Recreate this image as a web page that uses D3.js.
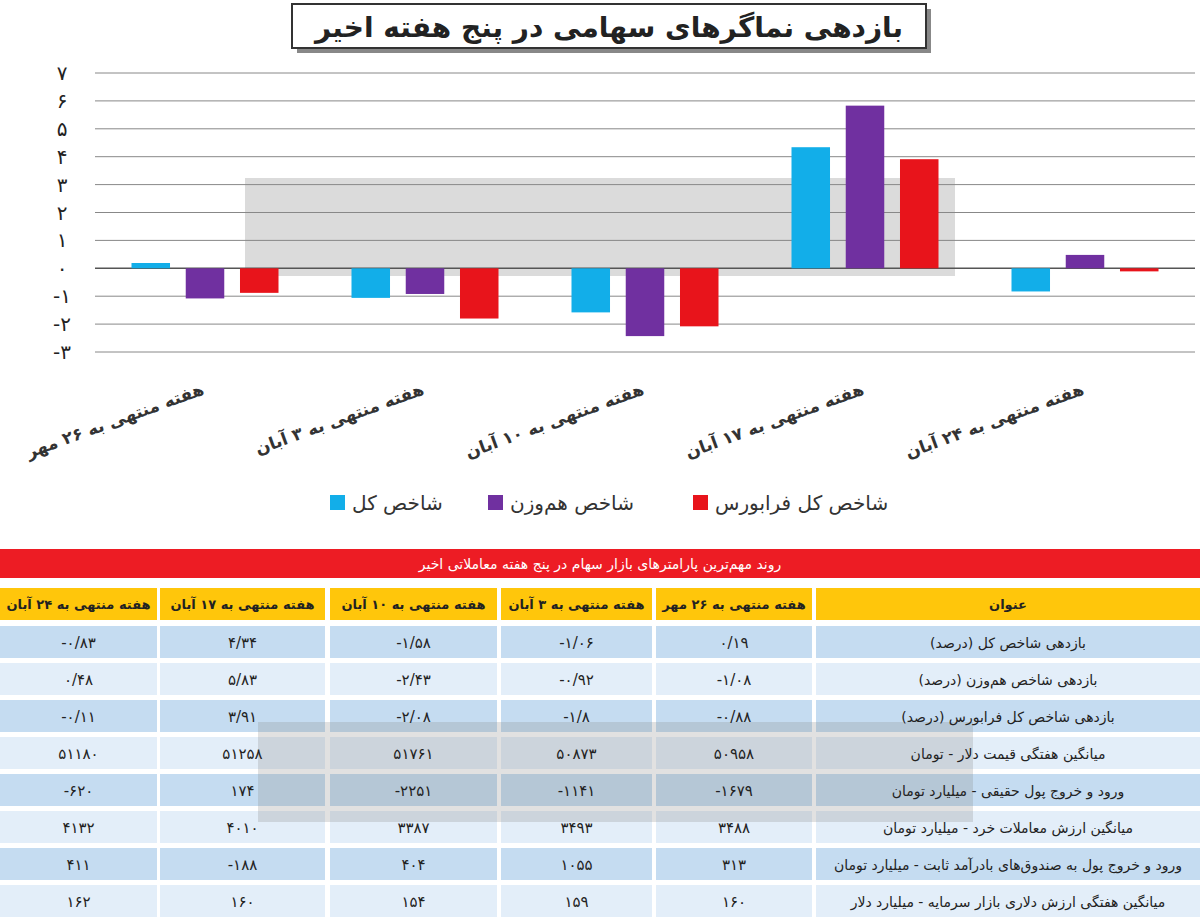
<!DOCTYPE html>
<html><head><meta charset="utf-8">
<script src="https://cdn.jsdelivr.net/npm/d3@7/dist/d3.min.js"></script>
<style>body{margin:0;background:#fff}svg{display:block;font-family:"DejaVu Sans",sans-serif}</style>
</head><body><svg id="c" width="1200" height="921"></svg>
<script>
const categories=["هفته منتهی به ۲۶ مهر","هفته منتهی به ۳ آبان","هفته منتهی به ۱۰ آبان","هفته منتهی به ۱۷ آبان","هفته منتهی به ۲۴ آبان"];
const seriesNames=["شاخص کل","شاخص هم‌وزن","شاخص کل فرابورس"];
const kol=[0.19,-1.06,-1.58,4.34,-0.83];
const hamvazn=[-1.08,-0.92,-2.43,5.83,0.48];
const farabourse=[-0.88,-1.8,-2.08,3.91,-0.11];
const yTicks=[-3,-2,-1,0,1,2,3,4,5,6,7];
const tableTitle="روند مهم‌ترین پارامترهای بازار سهام در پنج هفته معاملاتی اخیر";
const rowLabels=["بازدهی شاخص کل (درصد)","بازدهی شاخص هم‌وزن (درصد)","بازدهی شاخص کل فرابورس (درصد)","میانگین هفتگی قیمت دلار - تومان","ورود و خروج پول حقیقی - میلیارد تومان","میانگین ارزش معاملات خرد - میلیارد تومان","ورود و خروج پول به صندوق‌های بادرآمد ثابت - میلیارد تومان","میانگین هفتگی ارزش دلاری بازار سرمایه - میلیارد دلار"];
const dollar=[50958,50873,51761,51258,51180];
const haghighi=[-1679,-1141,-2251,174,-620];
const khord=[3488,3493,3387,4010,4132];
const sandogh=[313,1055,404,-188,411];
const dollarValue=[160,159,154,160,162];

const fa=s=>String(s).replace(/\d/g,d=>"۰۱۲۳۴۵۶۷۸۹"[d]);
const fmtDec=v=>(v<0?"-":"")+fa(Math.abs(v).toFixed(2).replace(/0$/,"").replace(/\.0$/,"")).replace(".","/");
const fmtInt=v=>(v<0?"-":"")+fa(Math.abs(v));

const svg=d3.select("#c");
const colors=["#12aee9","#7030a0","#e8141b"];
svg.append("rect").attr("x",297).attr("y",9).attr("width",634).attr("height",44).attr("fill","#888");
svg.append("rect").attr("x",292).attr("y",4).attr("width",634).attr("height",44).attr("fill","#fff").attr("stroke","#333").attr("stroke-width",2);
svg.append("text").attr("x",609).attr("y",37).attr("text-anchor","middle").attr("font-size",28).attr("font-weight","bold").attr("fill","#222").text("بازدهی نماگرهای سهامی در پنج هفته اخیر");

const x=d3.scaleBand().domain(categories).range([95,1195]);
const y=d3.scaleLinear().domain([-3,7]).range([352,73]);
const xs=d3.scaleBand().domain([0,1,2]).range([-73.5,73.5]).paddingInner(0.29);
svg.append("rect").attr("x",245).attr("y",178).attr("width",710).attr("height",98).attr("fill","#999").attr("opacity",0.35);
svg.append("g").selectAll("line").data(yTicks).join("line").attr("x1",95).attr("x2",1195)
 .attr("y1",d=>y(d)).attr("y2",d=>y(d)).attr("stroke",d=>d===0?"#555":"#888").attr("stroke-width",d=>d===0?1.5:1);
svg.append("g").selectAll("text").data(yTicks).join("text").attr("x",62).attr("y",d=>y(d)+7)
 .attr("text-anchor","middle").attr("font-size",20).attr("fill","#222").text(d=>(d<0?"-":"")+fa(Math.abs(d)));
const series=[kol,hamvazn,farabourse];
series.forEach((s,i)=>{
 svg.append("g").selectAll("rect").data(s).join("rect")
  .attr("x",(d,j)=>x(categories[j])+x.bandwidth()/2+xs(i)).attr("width",xs.bandwidth())
  .attr("y",d=>y(Math.max(0,d))).attr("height",d=>Math.abs(y(d)-y(0))).attr("fill",colors[i]);
});
svg.append("g").selectAll("text").data(categories).join("text")
 .attr("transform",d=>`translate(${x(d)+x.bandwidth()/2},394) rotate(-20)`)
 .attr("direction","rtl").attr("text-anchor","start").attr("font-size",17).attr("font-weight","bold").attr("fill","#333")
 .text(d=>d);
const leg=[{n:seriesNames[0],c:colors[0],x:330},{n:seriesNames[1],c:colors[1],x:488},{n:seriesNames[2],c:colors[2],x:693}];
leg.forEach(l=>{svg.append("rect").attr("x",l.x).attr("y",495).attr("width",15).attr("height",15).attr("fill",l.c);
 svg.append("text").attr("x",l.x+22).attr("y",510).attr("font-size",20).attr("fill","#333").text(l.n);});

svg.append("rect").attr("x",0).attr("y",549).attr("width",1200).attr("height",29).attr("fill","#ed1c24");
svg.append("text").attr("x",600).attr("y",569).attr("text-anchor","middle").attr("font-size",14).attr("fill","#fff").text(tableTitle);
const cols=[[816,384],[656,156],[501,151],[330,167],[160,165],[0,157]];
const headers=["عنوان",...categories];
cols.forEach((c,i)=>{svg.append("rect").attr("x",c[0]).attr("y",588).attr("width",c[1]).attr("height",32).attr("fill","#ffc60b");
 svg.append("text").attr("x",c[0]+c[1]/2).attr("y",609).attr("text-anchor","middle").attr("font-size",13).attr("font-weight","bold").attr("fill","#222").text(headers[i]);});
const rows=[kol.map(fmtDec),hamvazn.map(fmtDec),farabourse.map(fmtDec),dollar.map(fmtInt),haghighi.map(fmtInt),khord.map(fmtInt),sandogh.map(fmtInt),dollarValue.map(fmtInt)];
rows.forEach((r,ri)=>{const ry=626+ri*37.0;const fill=ri%2===0?"#c5dcf1":"#e3eef9";
 cols.forEach(c=>svg.append("rect").attr("x",c[0]).attr("y",ry).attr("width",c[1]).attr("height",32).attr("fill",fill));});
svg.append("rect").attr("x",258).attr("y",722).attr("width",715).attr("height",100).attr("fill","#888").attr("opacity",0.25);
rows.forEach((r,ri)=>{const ry=626+ri*37.0;
 cols.forEach((c,ci)=>svg.append("text").attr("x",c[0]+c[1]/2).attr("y",ry+22).attr("text-anchor","middle").attr("font-size",ci===0?14:15).attr("fill","#222")
   .attr("direction",ci===0?"rtl":"ltr").text(ci===0?rowLabels[ri]:r[ci-1]));});
</script></body></html>
